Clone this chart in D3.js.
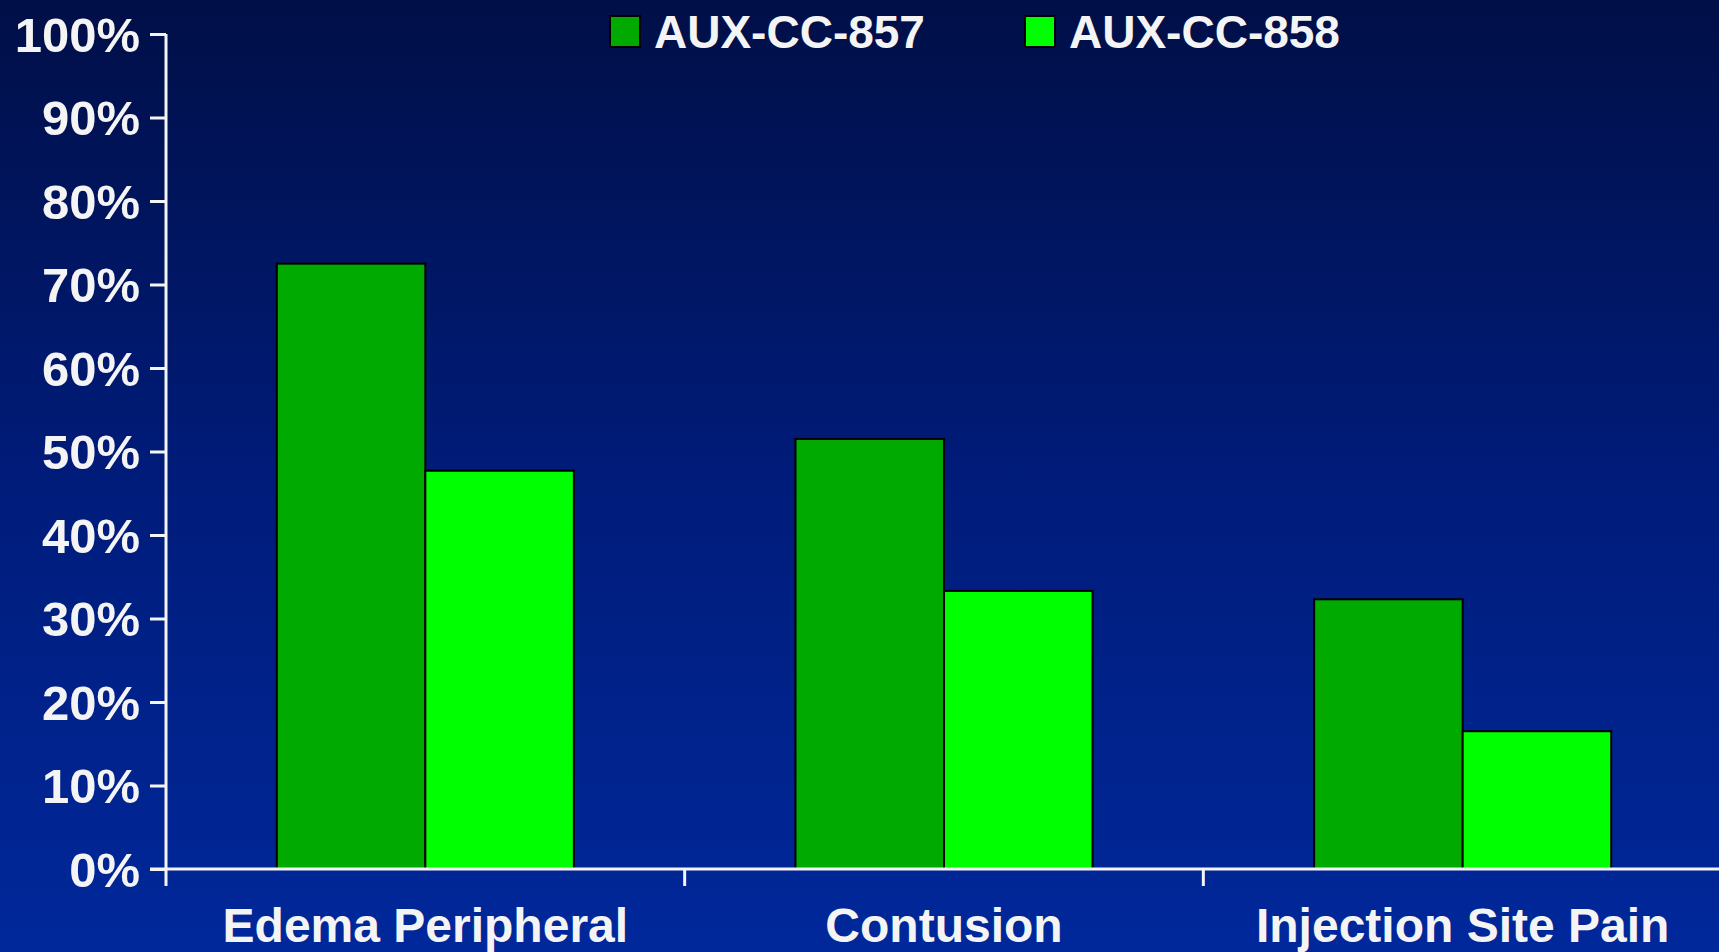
<!DOCTYPE html>
<html>
<head>
<meta charset="utf-8">
<script src="https://cdn.jsdelivr.net/npm/d3@7/dist/d3.min.js"></script>
<style>
  html, body { margin: 0; padding: 0; background: #001a78; }
  svg { display: block; }
  text { font-family: "Liberation Sans", Arial, sans-serif; font-weight: bold; fill: #f4f4f4; }
</style>
</head>
<body>
<svg id="chart" width="1719" height="952"></svg>
<script>
// Adverse events by study
const categories = ["Edema Peripheral", "Contusion", "Injection Site Pain"];
const seriesNames = ["AUX-CC-857", "AUX-CC-858"];
const aux857 = [72.5, 51.5, 32.3];
const aux858 = [47.7, 33.3, 16.5];
const yTicks = [0, 10, 20, 30, 40, 50, 60, 70, 80, 90, 100];
const colors = ["#00aa00", "#00ff00"];

const W = 1719, H = 952;
const margin = { left: 166, right: -3, top: 34, bottom: 83 };

const svg = d3.select("#chart");

// Background gradient
const defs = svg.append("defs");
const grad = defs.append("linearGradient")
  .attr("id", "bg").attr("x1", 0).attr("y1", 0).attr("x2", 0).attr("y2", 1);
grad.append("stop").attr("offset", "0%").attr("stop-color", "#000f47");
grad.append("stop").attr("offset", "50%").attr("stop-color", "#001c7a");
grad.append("stop").attr("offset", "100%").attr("stop-color", "#00289b");
svg.append("rect").attr("width", W).attr("height", H).attr("fill", "url(#bg)");

const x0 = d3.scaleBand()
  .domain(categories)
  .range([margin.left, W - margin.right])
  .padding(0);

const x1 = d3.scaleBand()
  .domain(seriesNames)
  .range([0, x0.bandwidth()])
  .paddingInner(0)
  .paddingOuter(0.746);

const y = d3.scaleLinear()
  .domain([0, 100])
  .range([H - margin.bottom, margin.top]);

const rows = categories.map((c, i) => ({
  category: c,
  values: [
    { series: seriesNames[0], value: aux857[i], color: colors[0] },
    { series: seriesNames[1], value: aux858[i], color: colors[1] }
  ]
}));

// Bars
const groups = svg.append("g").selectAll("g")
  .data(rows).join("g")
  .attr("transform", d => `translate(${x0(d.category)},0)`);

groups.selectAll("rect")
  .data(d => d.values).join("rect")
  .attr("x", d => x1(d.series))
  .attr("y", d => y(d.value))
  .attr("width", x1.bandwidth())
  .attr("height", d => y(0) - y(d.value))
  .attr("fill", d => d.color)
  .attr("stroke", "#000")
  .attr("stroke-width", 2);

// Y axis
const yAxis = svg.append("g")
  .attr("transform", `translate(${margin.left},0)`)
  .call(d3.axisLeft(y).tickValues(yTicks).tickFormat(d => d + "%").tickSize(16).tickPadding(10));
yAxis.select(".domain").attr("stroke", "#f4f4f4").attr("stroke-width", 3)
  .attr("d", `M0,${y(100)}V${y(0) + 17}`);
yAxis.selectAll(".tick line").attr("stroke", "#f4f4f4").attr("stroke-width", 3);
yAxis.selectAll(".tick text")
  .style("font-size", "49px").attr("dy", "0.35em").attr("fill", "#f4f4f4");

// X axis
const xAxis = svg.append("g")
  .attr("transform", `translate(0,${y(0)})`)
  .call(d3.axisBottom(x0).tickSize(0).tickPadding(50));
xAxis.select(".domain").attr("stroke", "#f4f4f4").attr("stroke-width", 3)
  .attr("d", `M${margin.left - 16},0H${W}`);
xAxis.selectAll(".tick text")
  .style("font-size", "48px").attr("dy", "0.71em").attr("y", 39).attr("fill", "#f4f4f4");

// Category separators on the x axis
svg.append("g").selectAll("line")
  .data(categories.slice(1)).join("line")
  .attr("x1", d => x0(d)).attr("x2", d => x0(d))
  .attr("y1", y(0)).attr("y2", y(0) + 17)
  .attr("stroke", "#f4f4f4").attr("stroke-width", 3);

// Legend
const legend = svg.append("g");
const legendX = [610, 1025];
seriesNames.forEach((name, i) => {
  const g = legend.append("g").attr("transform", `translate(${legendX[i]},16)`);
  g.append("rect").attr("width", 30).attr("height", 31)
    .attr("fill", colors[i]).attr("stroke", "#000").attr("stroke-width", 2);
  g.append("text").attr("x", 44).attr("y", 32)
    .style("font-size", "46px").text(name);
});
</script>
</body>
</html>
